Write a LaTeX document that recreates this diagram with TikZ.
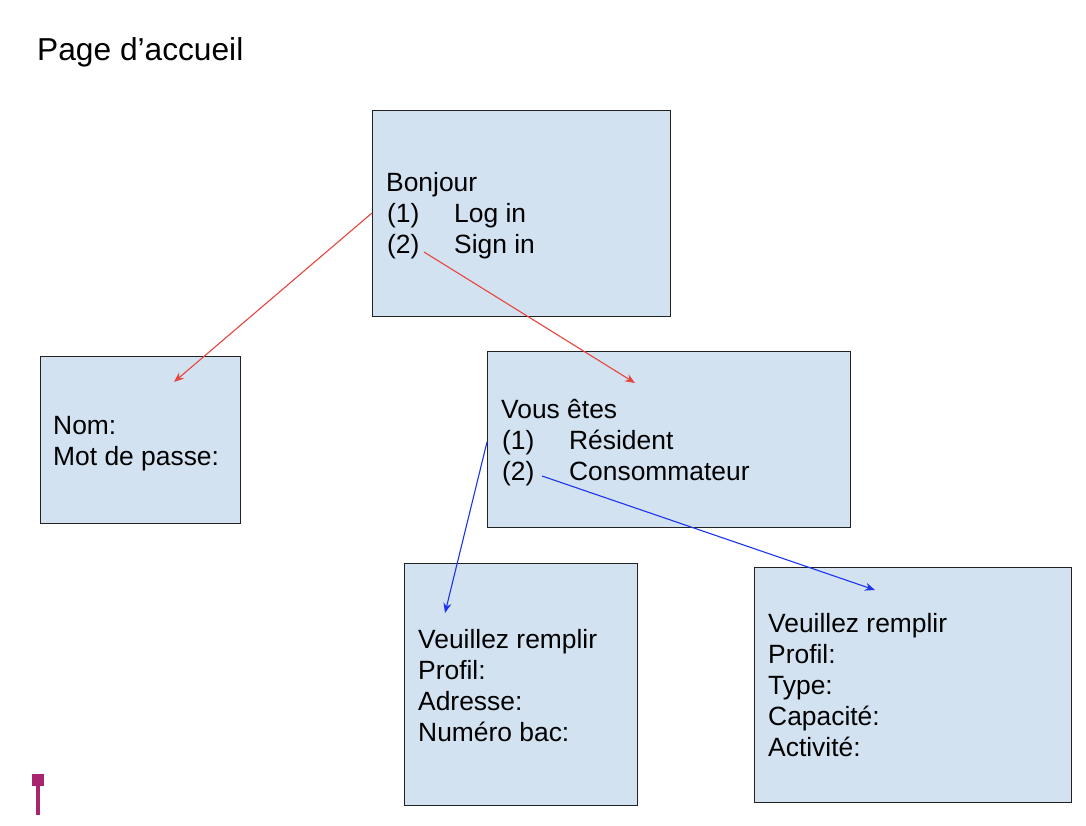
\documentclass[tikz,border=0pt]{standalone}
\usepackage{fontspec}
\setmainfont{Liberation Sans}
\usetikzlibrary{arrows.meta}
\definecolor{boxfill}{HTML}{D2E2F1}
\definecolor{boxline}{HTML}{222222}
\definecolor{arrred}{HTML}{E8453C}
\definecolor{arrblue}{HTML}{1C34F2}
\definecolor{magmark}{HTML}{A8246E}
\newcommand\tabitem[2]{\makebox[67pt][l]{#1}#2}
\tikzset{
  panel/.style={draw=boxline, fill=boxfill, line width=1.4pt, anchor=north west, inner sep=0pt},
  txt/.style={anchor=base west, inner sep=0pt, font=\fontsize{26.4}{31}\selectfont},
  titletxt/.style={anchor=base west, inner sep=0pt, font=\fontsize{31.7}{36}\selectfont},
  redarrow/.style={draw=arrred, line width=1.1pt, -{Stealth[length=10pt,width=8pt]}},
  bluearrow/.style={draw=arrblue, line width=1.1pt, -{Stealth[length=10pt,width=8pt]}},
}
\begin{document}
\begin{tikzpicture}[x=1pt,y=-1pt]
\useasboundingbox[fill=white] (0,0) rectangle (1086,826);
\node[titletxt] (title) at (37,61) {Page d’accueil};
% panels
\node[panel, minimum width=298pt, minimum height=206pt] (top) at (372,110) {};
\node[panel, minimum width=200pt, minimum height=167pt] (login) at (40,356) {};
\node[panel, minimum width=363pt, minimum height=176pt] (choice) at (487,351) {};
\node[panel, minimum width=233pt, minimum height=242pt] (resident) at (404,563) {};
\node[panel, minimum width=317pt, minimum height=235pt] (consumer) at (754,567) {};
% texts top
\node[txt] (t1) at (386,192) {Bonjour};
\node[txt] (t2) at (387,223) {\tabitem{(1)}{Log in}};
\node[txt] (t3) at (387,254) {\tabitem{(2)}{Sign in}};
% login
\node[txt] (l1) at (53,434) {Nom:};
\node[txt] (l2) at (53,465) {Mot de passe:};
% choice
\node[txt] (c1) at (501,418) {Vous êtes};
\node[txt] (c2) at (502,449) {\tabitem{(1)}{Résident}};
\node[txt] (c3) at (502,480) {\tabitem{(2)}{Consommateur}};
% resident
\node[txt] (r1) at (418,648) {Veuillez remplir};
\node[txt] (r2) at (418,679) {Profil:};
\node[txt] (r3) at (418,710) {Adresse:};
\node[txt] (r4) at (418,741) {Numéro bac:};
% consumer
\node[txt] (k1) at (768,632) {Veuillez remplir};
\node[txt] (k2) at (768,663) {Profil:};
\node[txt] (k3) at (768,694) {Type:};
\node[txt] (k4) at (768,725) {Capacité:};
\node[txt] (k5) at (768,756) {Activité:};
% arrow end points
\coordinate (a1s) at (372,213);
\coordinate (a1e) at (174,382);
\coordinate (a2s) at (424,252);
\coordinate (a2e) at (635,383);
\coordinate (a3s) at (487,442);
\coordinate (a3e) at (445,613);
\coordinate (a4s) at (542,476);
\coordinate (a4e) at (875,590);
\draw[redarrow] (a1s) -- (a1e);
\draw[redarrow] (a2s) -- (a2e);
\draw[bluearrow] (a3s) -- (a3e);
\draw[bluearrow] (a4s) -- (a4e);
% magenta mark
\fill[magmark] (32,774) rectangle (44,786);
\fill[magmark] (36,786) rectangle (40,815);
\end{tikzpicture}
\end{document}
